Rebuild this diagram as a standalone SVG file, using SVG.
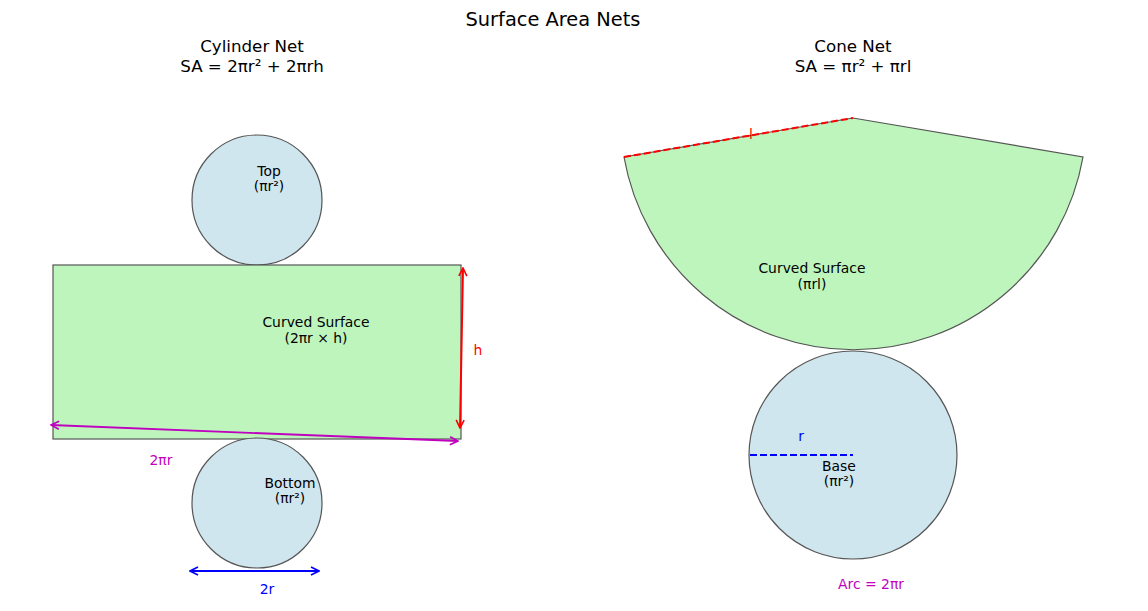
<svg xmlns="http://www.w3.org/2000/svg" width="1148" height="611" viewBox="0 0 1148 611">
<style>
text{font-family:"DejaVu Sans","Liberation Sans",sans-serif;text-anchor:middle;}
.lbl{font-size:13.9px;fill:#000;}
.sub{font-size:16.7px;fill:#000;}
.ttl{font-size:19.4px;fill:#000;}
.circ{fill:#cfe6ef;stroke:#555;stroke-width:1.2;}
.green{fill:#bdf5bd;stroke:#555;stroke-width:1.2;}
</style>
<defs>
<marker id="aR" viewBox="0 0 10 10" refX="9" refY="5" markerWidth="10" markerHeight="10" markerUnits="userSpaceOnUse" orient="auto-start-reverse"><path d="M1,1 L9,5 L1,9" fill="none" stroke="#ff0000" stroke-width="1.6"/></marker>
<marker id="aM" viewBox="0 0 10 10" refX="9" refY="5" markerWidth="10" markerHeight="10" markerUnits="userSpaceOnUse" orient="auto-start-reverse"><path d="M1,1 L9,5 L1,9" fill="none" stroke="#bf00bf" stroke-width="1.6"/></marker>
<marker id="aB" viewBox="0 0 10 10" refX="9" refY="5" markerWidth="10" markerHeight="10" markerUnits="userSpaceOnUse" orient="auto-start-reverse"><path d="M1,1 L9,5 L1,9" fill="none" stroke="#0000ff" stroke-width="1.6"/></marker>
</defs>
<rect width="1148" height="611" fill="#fff"/>
<text class="ttl" x="553" y="26">Surface Area Nets</text>
<text class="sub" x="252" y="52">Cylinder Net</text>
<text class="sub" x="252" y="72">SA = 2πr² + 2πrh</text>
<text class="sub" x="853" y="52">Cone Net</text>
<text class="sub" x="853" y="72">SA = πr² + πrl</text>

<g id="cyl-top"><circle class="circ" cx="257" cy="200" r="65"/><text class="lbl" x="269" y="176">Top</text><text class="lbl" x="269" y="191">(πr²)</text></g>
<g id="cyl-surface"><rect class="green" x="53" y="265" width="408" height="174"/><text class="lbl" x="316" y="327">Curved Surface</text><text class="lbl" x="316" y="343">(2πr × h)</text></g>
<g id="cyl-bottom"><circle class="circ" cx="257" cy="503" r="65"/><text class="lbl" x="290" y="488">Bottom</text><text class="lbl" x="290" y="503">(πr²)</text></g>

<g id="cone-surface"><path class="green" d="M853,118 L624,157 A233,233 0 0 0 1083,157 Z"/><text class="lbl" x="812" y="273">Curved Surface</text><text class="lbl" x="812" y="289">(πrl)</text></g>
<g id="cone-base"><circle class="circ" cx="853" cy="455" r="104"/><text class="lbl" x="839" y="471">Base</text><text class="lbl" x="839" y="486">(πr²)</text></g>

<g id="connectors" fill="none">
<line x1="463" y1="268" x2="460" y2="428" stroke="#ff0000" stroke-width="2" marker-start="url(#aR)" marker-end="url(#aR)"/>
<line x1="51" y1="425" x2="458" y2="441" stroke="#bf00bf" stroke-width="1.8" marker-start="url(#aM)" marker-end="url(#aM)"/>
<line x1="190" y1="571" x2="319" y2="571" stroke="#0000ff" stroke-width="1.8" marker-start="url(#aB)" marker-end="url(#aB)"/>
<line x1="624" y1="157" x2="853" y2="118" stroke="#ff0000" stroke-width="2" stroke-dasharray="7,3"/>
<line x1="750" y1="455" x2="853" y2="455" stroke="#0000ff" stroke-width="2" stroke-dasharray="7,3"/>
</g>
<g id="labels">
<text class="lbl" x="478" y="355" style="fill:#ff0000">h</text>
<text class="lbl" x="161" y="465" style="fill:#bf00bf">2πr</text>
<text class="lbl" x="267" y="594" style="fill:#0000ff">2r</text>
<text class="lbl" x="751" y="139" style="fill:#ff0000">l</text>
<text class="lbl" x="801" y="441" style="fill:#0000ff">r</text>
<text class="lbl" x="871" y="589" style="fill:#bf00bf">Arc = 2πr</text>
</g>
</svg>
